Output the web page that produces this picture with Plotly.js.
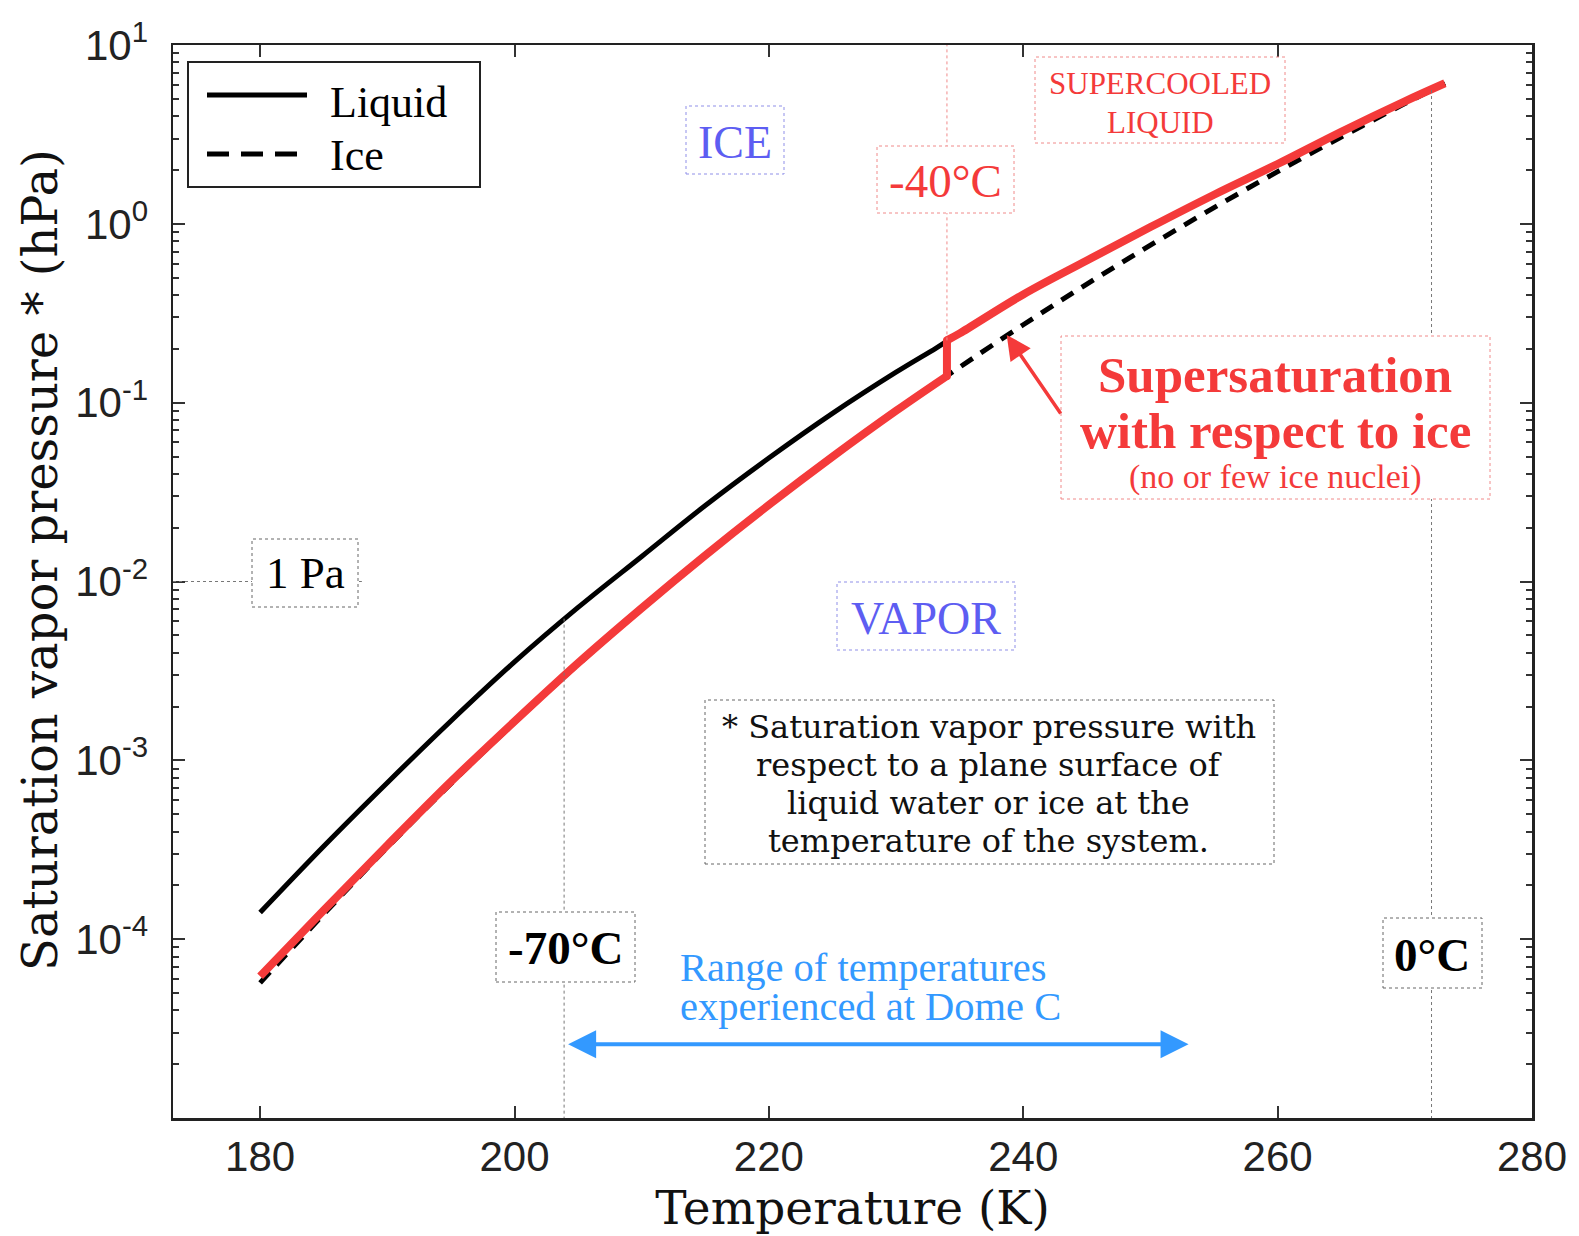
<!DOCTYPE html>
<html>
<head>
<meta charset="utf-8">
<script src="https://cdn.plot.ly/plotly-3.0.1.min.js"></script>
<style>html,body{margin:0;padding:0;background:#fff;}#chart{width:1579px;height:1236px;}</style>
</head>
<body>
<div id="chart"></div>
<script>
// ---- data ----
const temps = [180, 185, 190, 195, 200, 205, 210, 215, 220, 225, 230, 233.15, 235, 240, 245, 250, 255, 260, 265, 270, 273.15];
const liquidP = [1.41e-4, 3.31e-4, 7.50e-4, 1.66e-3, 3.55e-3, 7.16e-3, 1.38e-2, 2.66e-2, 4.90e-2, 8.71e-2, 0.148, 0.202, 0.244, 0.403, 0.624, 0.959, 1.455, 2.16, 3.27, 4.84, 6.11];
const iceP = [5.70e-5, 1.38e-4, 3.26e-4, 7.41e-4, 1.627e-3, 3.44e-3, 7.02e-3, 1.386e-2, 2.655e-2, 4.94e-2, 8.95e-2, 0.1284, 0.158, 0.2727, 0.460, 0.760, 1.2315, 1.958, 3.059, 4.70, 6.11];
// red "supersaturation" path: ice branch up to -40°C, step, then supercooled liquid branch
const redIceT = [180, 185, 190, 195, 200, 205, 210, 215, 220, 225, 230, 234];
const redIceP = [6.2e-5, 1.45e-4, 3.35e-4, 7.6e-4, 1.65e-3, 3.5e-3, 7.1e-3, 1.40e-2, 2.68e-2, 4.98e-2, 9.0e-2, 0.141];
const redStepT = [234, 234];
const redStepP = [0.141, 0.223];
const redLiqT = [234, 235, 240, 245, 250, 255, 260, 265, 270, 273.15];
const redLiqP = [0.223, 0.244, 0.403, 0.624, 0.959, 1.455, 2.16, 3.27, 4.84, 6.11];
const xTickVals = [180, 200, 220, 240, 260, 280];
const yTickVals = [1e-4, 1e-3, 1e-2, 1e-1, 1, 10];
const yTickText = ['10<sup>-4</sup>', '10<sup>-3</sup>', '10<sup>-2</sup>', '10<sup>-1</sup>', '10<sup>0</sup>', '10<sup>1</sup>'];
const markerTemps = {m70: 203.9, m40: 234.0, zero: 272.1};
const guideTops = {m70: 6.2e-3, m40: 0.223, zero: 5.6};
const domeRange = [204.1, 253.0];
const onePaValue = 0.01;

// ---- layout helpers (pixel -> paper) ----
const W = 1579, H = 1236, ML = 173, MR = 47, MT = 45, MB = 118;
const PW = W - ML - MR, PH = H - MT - MB;
const px = x => (x - ML) / PW;
const py = y => (H - MB - y) / PH;

const RED = '#f43a3a', BLUE = '#3399ff', PURP = '#5d5df2';
const SERIF = 'Liberation Serif, Times New Roman, serif';
const DSERIF = 'DejaVu Serif, serif';

const minorVals = [];
for (let e = -5; e <= 0; e++) for (let d = 2; d <= 9; d++) minorVals.push(d * Math.pow(10, e));

const traces = [
  {x: temps, y: liquidP, name: 'Liquid', mode: 'lines', line: {color: '#000', width: 5, shape: 'spline', smoothing: 1}, showlegend: false},
  {x: temps, y: iceP, name: 'Ice', mode: 'lines', line: {color: '#000', width: 5, dash: '14px,10px', shape: 'spline', smoothing: 1}, showlegend: false},
  {x: redIceT, y: redIceP, name: 'ice branch', mode: 'lines', line: {color: RED, width: 8, shape: 'spline', smoothing: 1}, showlegend: false},
  {x: redStepT, y: redStepP, name: '-40°C step', mode: 'lines+markers', line: {color: RED, width: 8}, marker: {color: RED, size: 8, line: {width: 0}}, showlegend: false},
  {x: redLiqT, y: redLiqP, name: 'supercooled branch', mode: 'lines', line: {color: RED, width: 8, shape: 'spline', smoothing: 1}, showlegend: false}
];

function box(x0, y0, x1, y1, color) {
  return {type: 'rect', xref: 'paper', yref: 'paper', x0: px(x0), x1: px(x1), y0: py(y1), y1: py(y0),
    line: {color: color, width: 1, dash: 'dot'}, fillcolor: 'white', layer: 'above'};
}
function txt(x, y, text, size, color, family, extra) {
  return Object.assign({xref: 'paper', yref: 'paper', x: px(x), y: py(y), text: text, showarrow: false,
    xanchor: 'center', yanchor: 'middle', font: {family: family || SERIF, size: size, color: color}}, extra || {});
}

const shapes = [
  // guide lines (data values on the log axis)
  {type: 'line', xref: 'x', yref: 'y', x0: markerTemps.m70, x1: markerTemps.m70, y0: guideTops.m70, y1: 1e-5, line: {color: '#777', width: 1, dash: 'dot'}},
  {type: 'line', xref: 'x', yref: 'y', x0: markerTemps.m40, x1: markerTemps.m40, y0: guideTops.m40, y1: 10, line: {color: '#f08a8a', width: 1, dash: 'dot'}},
  {type: 'line', xref: 'x', yref: 'y', x0: markerTemps.zero, x1: markerTemps.zero, y0: guideTops.zero, y1: 1e-5, line: {color: '#777', width: 1, dash: 'dot'}},
  {type: 'line', xref: 'x', yref: 'y', x0: 173.15, x1: 188, y0: onePaValue, y1: onePaValue, line: {color: '#777', width: 1, dash: 'dot'}},
  // boxes
  box(252, 539, 358, 607, '#666'),
  box(686, 106, 784, 174, '#8f8fe8'),
  box(837, 582, 1015, 650, '#8f8fe8'),
  box(1035, 57, 1285, 143, '#f08a8a'),
  box(877, 146, 1014, 213, '#f08a8a'),
  box(496, 912, 635, 982, '#666'),
  box(1383, 918, 1482, 988, '#666'),
  box(1061, 336, 1490, 499, '#f08a8a'),
  box(705, 700, 1274, 864, '#666'),
  // custom legend
  {type: 'rect', xref: 'paper', yref: 'paper', x0: px(188), x1: px(480), y0: py(187), y1: py(62), line: {color: '#222', width: 2}, fillcolor: 'white', layer: 'above'},
  {type: 'line', xref: 'paper', yref: 'paper', x0: px(207), x1: px(307), y0: py(95), y1: py(95), line: {color: '#000', width: 5}, layer: 'above'},
  {type: 'line', xref: 'paper', yref: 'paper', x0: px(207), x1: px(307), y0: py(154), y1: py(154), line: {color: '#000', width: 5, dash: '22px,12px'}, layer: 'above'}
];

const annotations = [
  txt(40, 560, 'Saturation vapor pressure * (hPa)', 48, '#111', DSERIF, {textangle: -90}),
  txt(328, 102, 'Liquid', 44, '#000', SERIF, {xanchor: 'left'}),
  txt(328, 155, 'Ice', 44, '#000', SERIF, {xanchor: 'left'}),
  txt(305, 573, '1 Pa', 45, '#000'),
  txt(735, 142, 'ICE', 46, PURP),
  txt(926, 618, 'VAPOR', 46, PURP),
  txt(1160, 84, 'SUPERCOOLED', 31, RED),
  txt(1160, 122, 'LIQUID', 31, RED),
  txt(945.5, 181, '-40°C', 47, RED),
  txt(565, 948, '<b>-70°C</b>', 47, '#000'),
  txt(1432, 955, '<b>0°C</b>', 47, '#000'),
  txt(1275, 375, '<b>Supersaturation</b>', 51, RED),
  txt(1275, 431, '<b>with respect to ice</b>', 51, RED),
  txt(1275, 477, '(no or few ice nuclei)', 34, RED),
  txt(989, 727, '* Saturation vapor pressure with', 32, '#111', DSERIF),
  txt(989, 765, 'respect to a plane surface of', 32, '#111', DSERIF),
  txt(989, 803, 'liquid water or ice at the', 32, '#111', DSERIF),
  txt(989, 841, 'temperature of the system.', 32, '#111', DSERIF),
  txt(678, 967, 'Range of temperatures', 40.5, BLUE, SERIF, {xanchor: 'left'}),
  txt(678, 1006, 'experienced at Dome C', 40.5, BLUE, SERIF, {xanchor: 'left'}),
  // arrows (annotation coordinates on log axes are in log units)
  {xref: 'x', yref: 'y', axref: 'x', ayref: 'y', x: domeRange[1], y: -4.587, ax: domeRange[0], ay: -4.587, text: '',
    showarrow: true, arrowside: 'end+start', arrowhead: 2, arrowsize: 1.4, arrowwidth: 4, arrowcolor: BLUE, standoff: 0, startstandoff: 0},
  {xref: 'x', yref: 'y', x: 238.7, y: -0.621, ax: 55, ay: 80, text: '', showarrow: true, arrowhead: 2, arrowsize: 1.4,
    arrowwidth: 3.5, arrowcolor: RED, standoff: 0}
];

const layout = {
  width: W, height: H,
  margin: {l: ML, r: MR, t: MT, b: MB, pad: 0},
  paper_bgcolor: '#fff', plot_bgcolor: '#fff',
  showlegend: false,
  xaxis: {
    range: [173.15, 280], tickmode: 'array', tickvals: xTickVals,
    ticks: 'inside', ticklen: 12, tickwidth: 2, tickcolor: '#333',
    showline: true, linecolor: '#222', linewidth: 2.5, mirror: 'allticks',
    showgrid: false, zeroline: false,
    tickfont: {family: 'Liberation Sans, Arial, sans-serif', size: 42, color: '#222'},
    title: {text: 'Temperature (K)', font: {family: DSERIF, size: 47, color: '#111'}, standoff: 8}
  },
  yaxis: {
    type: 'log', range: [-5, 1], tickmode: 'array', tickvals: yTickVals, ticktext: yTickText,
    ticks: 'inside', ticklen: 12, tickwidth: 2, tickcolor: '#333', ticklabelstandoff: 14,
    minor: {tickmode: 'array', tickvals: minorVals, ticks: 'inside', ticklen: 6, tickwidth: 2, tickcolor: '#333', showgrid: false},
    showline: true, linecolor: '#222', linewidth: 2.5, mirror: 'allticks',
    showgrid: false, zeroline: false,
    tickfont: {family: 'Liberation Sans, Arial, sans-serif', size: 42, color: '#222'}
  },
  shapes: shapes,
  annotations: annotations
};

Plotly.newPlot('chart', traces, layout, {staticPlot: true, displayModeBar: false});
</script>
</body>
</html>
